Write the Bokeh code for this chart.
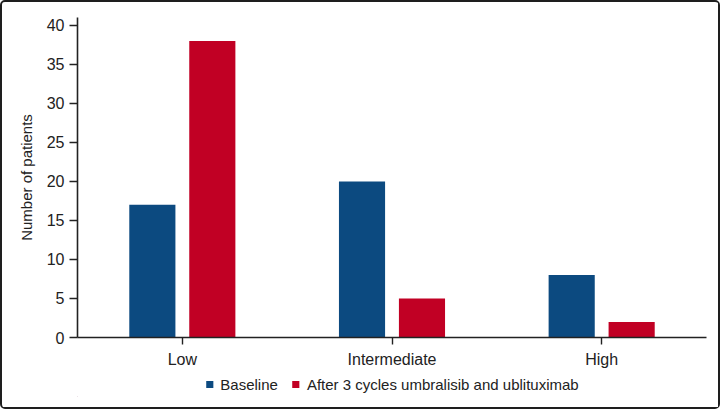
from bokeh.plotting import figure
from bokeh.layouts import column
from bokeh.models import ColumnDataSource, FactorRange, Range1d, Legend, LegendItem, FixedTicker
from bokeh.transform import dodge
from bokeh.embed import file_html
from bokeh.resources import INLINE

categories = ["Low", "Intermediate", "High"]
baseline = [17, 20, 8]
after = [38, 5, 2]
series_names = ["Baseline", "After 3 cycles umbralisib and ublituximab"]
y_ticks = [0, 5, 10, 15, 20, 25, 30, 35, 40]

BLUE = "#0c4a80"
RED = "#c10024"
FONT = "Liberation Sans"
INK = "#222222"

source = ColumnDataSource(data=dict(cat=categories, baseline=baseline, after=after))

p = figure(
    width=716, height=370,
    x_range=FactorRange(*categories, range_padding=0),
    y_range=Range1d(0, 41),
    output_backend="svg", toolbar_location=None,
    min_border_left=75, min_border_right=12, min_border_top=15, min_border_bottom=35,
)
p.outline_line_color = None
p.xgrid.grid_line_color = None
p.ygrid.grid_line_color = None

p.vbar(x=dodge("cat", -0.143, range=p.x_range), top="baseline", width=0.22,
       source=source, fill_color=BLUE, line_color=None)
p.vbar(x=dodge("cat", 0.143, range=p.x_range), top="after", width=0.22,
       source=source, fill_color=RED, line_color=None)

# y axis
ya = p.yaxis[0]
ya.ticker = FixedTicker(ticks=y_ticks)
ya.axis_label = "Number of patients"
ya.axis_label_text_font = FONT
ya.axis_label_text_font_style = "normal"
ya.axis_label_text_font_size = "15px"
ya.axis_label_text_color = INK
ya.axis_label_standoff = 9
ya.major_label_text_font = FONT
ya.major_label_text_font_size = "16px"
ya.major_label_text_color = INK
ya.major_label_standoff = 5
ya.major_tick_out = 8
ya.major_tick_in = 0
ya.minor_tick_line_color = None
ya.axis_line_width = 1.6
ya.axis_line_color = INK
ya.major_tick_line_color = INK
ya.major_tick_line_width = 1.4

# x axis
xa = p.xaxis[0]
xa.major_label_text_font = FONT
xa.major_label_text_font_size = "16px"
xa.major_label_text_color = INK
xa.major_label_standoff = 6
xa.major_tick_out = 7
xa.major_tick_in = 0
xa.axis_line_width = 1.6
xa.axis_line_color = INK
xa.major_tick_line_color = INK
xa.major_tick_line_width = 1.4

# legend strip (swatch renderers hold no visible area)
lp = figure(width=716, height=35, output_backend="svg", toolbar_location=None,
            x_range=Range1d(0, 1), y_range=Range1d(0, 1),
            min_border=0, min_border_bottom=11)
lp.axis.visible = False
lp.grid.visible = False
lp.outline_line_color = None
lr1 = lp.vbar(x=[-5], top=[-5], bottom=[-6], width=0.1, fill_color=BLUE, line_color=None)
lr2 = lp.vbar(x=[-5], top=[-5], bottom=[-6], width=0.1, fill_color=RED, line_color=None)
legend = Legend(
    items=[LegendItem(label=series_names[0], renderers=[lr1]),
           LegendItem(label=series_names[1], renderers=[lr2])],
    orientation="horizontal", location="center",
    glyph_width=9, glyph_height=9, label_standoff=7, spacing=13,
    label_text_font=FONT, label_text_font_size="15px", label_text_color=INK,
    border_line_color=None, background_fill_alpha=0,
    margin=0, padding=2,
)
lp.add_layout(legend, "center")

layout = column(p, lp, spacing=0,
                styles={"border": "2px solid #1e1e1e", "border-radius": "5px"})

open("out.html", "w").write(file_html(layout, INLINE))
